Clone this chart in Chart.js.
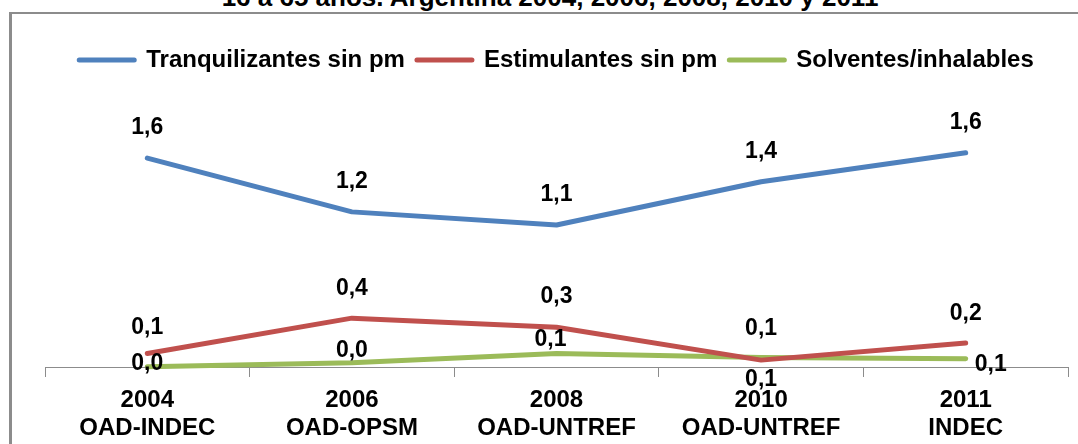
<!DOCTYPE html>
<html>
<head>
<meta charset="utf-8">
<script src="https://cdn.jsdelivr.net/npm/chart.js@4.4.0/dist/chart.umd.min.js"></script>
<style>
  body { margin: 0; overflow: hidden; background: #fff; }
  .frame { position: absolute; left: 9px; top: 12px; width: 1200px; height: 600px; border: 2px solid #8c8c8c; border-left-width: 3px; }
  .title { position: absolute; left: 0; top: -16px; width: 1100px; text-align: center; font: bold 26px/26px "Liberation Sans", Arial, sans-serif; color: #000; white-space: nowrap; }
  .chart-box { position: absolute; left: 0; top: 0; width: 1078px; height: 452px; }
</style>
</head>
<body>
<div class="frame"></div>
<div class="title">16 a 65 años. Argentina 2004, 2006, 2008, 2010 y 2011</div>
<div class="chart-box"><canvas id="prevalence-chart"></canvas></div>
<script>
const years = [['2004', 'OAD-INDEC'], ['2006', 'OAD-OPSM'], ['2008', 'OAD-UNTREF'], ['2010', 'OAD-UNTREF'], ['2011', 'INDEC']]
const seriesNames = ['Tranquilizantes sin pm', 'Estimulantes sin pm', 'Solventes/inhalables']
const tranquilizantes = [1.60, 1.19, 1.09, 1.42, 1.64]
const estimulantes = [0.11, 0.38, 0.31, 0.06, 0.19]
const solventes = [0.01, 0.04, 0.11, 0.08, 0.07]

// where each value label sits relative to its point (dx, dy to baseline)
const labelOffsets = [
    [[0, -24], [0, -24], [0, -24], [0, -24], [0, -24]],
    [[0, -20], [0, -23], [0, -24], [0, -25], [0, -23]],
    [[0, 3], [0, -6], [-6, -8], [0, 29], [25, 12]]
]

const font = '"Liberation Sans", Arial, sans-serif'
Chart.defaults.font.family = font
Chart.defaults.color = '#000'

const valueLabels = {
    id: 'valueLabels',
    afterDatasetsDraw(chart) {
        const ctx = chart.ctx
        ctx.save()
        ctx.font = 'bold 23px ' + font
        ctx.fillStyle = '#000'
        ctx.textAlign = 'center'
        ctx.textBaseline = 'alphabetic'
        chart.data.datasets.forEach((ds, i) => {
            const meta = chart.getDatasetMeta(i)
            meta.data.forEach((pt, j) => {
                const off = labelOffsets[i][j]
                const txt = ds.data[j].toFixed(1).replace('.', ',')
                ctx.fillText(txt, pt.x + off[0], pt.y + off[1])
            })
        })
        ctx.restore()
    }
}

const lineSet = (label, data, color) => ({
    label: label,
    data: data,
    borderColor: color,
    backgroundColor: color,
    borderWidth: 5,
    borderCapStyle: 'round',
    borderJoinStyle: 'round',
    pointRadius: 0,
    tension: 0,
    clip: false
})

const ctx = document.getElementById('prevalence-chart').getContext('2d')
const myChart = new Chart(ctx, {
    type: 'line',
    data: {
        labels: years,
        datasets: [
            lineSet(seriesNames[0], tranquilizantes, '#4f81bd'),
            lineSet(seriesNames[1], estimulantes, '#c0504d'),
            lineSet(seriesNames[2], solventes, '#9bbb59')
        ]
    },
    options: {
        responsive: true,
        maintainAspectRatio: false,
        animation: false,
        layout: { padding: { top: 36, left: 45, right: 10, bottom: 0 } },
        plugins: {
            legend: {
                labels: {
                    boxWidth: 55,
                    boxHeight: 0,
                    padding: 12,
                    font: { size: 24, weight: 'bold' }
                }
            },
            tooltip: { enabled: false }
        },
        scales: {
            x: {
                offset: true,
                grid: {
                    offset: true,
                    drawOnChartArea: false,
                    tickLength: 9,
                    color: '#8c8c8c'
                },
                border: { color: '#8c8c8c', width: 1 },
                ticks: {
                    padding: 10,
                    font: { size: 24, weight: 'bold', lineHeight: 1.146 }
                }
            },
            y: {
                display: false,
                min: 0,
                max: 2.18
            }
        }
    },
    plugins: [valueLabels]
});
</script>
</body>
</html>
